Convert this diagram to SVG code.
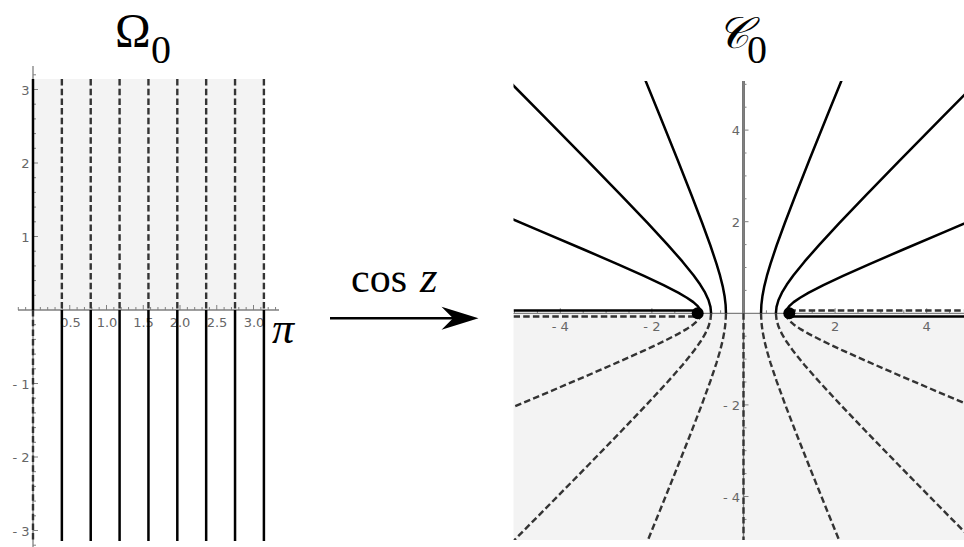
<svg xmlns="http://www.w3.org/2000/svg" width="964" height="547" viewBox="0 0 964 547">
<style>
.ax{stroke:#808080;stroke-width:1.3;fill:none}
.tk{stroke:#808080;stroke-width:1;fill:none}
.lbl{font-family:"DejaVu Sans",sans-serif;font-size:13px;fill:#666}
.sol{stroke:#000;stroke-width:2.5;fill:none;stroke-linejoin:round}
.das{stroke:#333;stroke-width:2.4;fill:none;stroke-dasharray:6.5,3.2;stroke-linejoin:round}
.ttl{font-family:"Liberation Serif","DejaVu Serif",serif;fill:#000}
</style>
<defs>
<clipPath id="rclip"><rect x="513.5" y="81" width="451" height="459"/></clipPath>
</defs>
<rect width="964" height="547" fill="#fff"/>

<g id="title-omega">
<text class="ttl" x="115" y="47" font-size="48">Ω</text>
<text class="ttl" x="151" y="63" font-size="40">0</text>
</g>
<g id="title-c">
<text class="ttl" x="717" y="48" font-size="44" font-style="italic">𝒞</text>
<text class="ttl" x="747" y="63" font-size="40">0</text>
</g>

<g id="left-plot">
<rect x="33" y="79" width="231" height="231" fill="#f3f3f3"/>
<g id="left-axes">
<path class="ax" d="M18,310H279M33,66V547"/>
<path class="tk" d="M18.3,310v-3M25.65,310v-3M40.35,310v-3M47.7,310v-3M55.05,310v-3M62.4,310v-3M69.75,310v-5M77.1,310v-3M84.45,310v-3M91.8,310v-3M99.15,310v-3M106.5,310v-5M113.85,310v-3M121.2,310v-3M128.55,310v-3M135.9,310v-3M143.25,310v-5M150.6,310v-3M157.95,310v-3M165.3,310v-3M172.65,310v-3M180,310v-5M187.35,310v-3M194.7,310v-3M202.05,310v-3M209.4,310v-3M216.75,310v-5M224.1,310v-3M231.45,310v-3M238.8,310v-3M246.15,310v-3M253.5,310v-5M260.85,310v-3M268.2,310v-3M275.55,310v-3"/>
<path class="tk" d="M33,74.8h3M33,89.5h5M33,104.2h3M33,118.9h3M33,133.6h3M33,148.3h3M33,163h5M33,177.7h3M33,192.4h3M33,207.1h3M33,221.8h3M33,236.5h5M33,251.2h3M33,265.9h3M33,280.6h3M33,295.3h3M33,324.7h3M33,339.4h3M33,354.1h3M33,368.8h3M33,383.5h5M33,398.2h3M33,412.9h3M33,427.6h3M33,442.3h3M33,457h5M33,471.7h3M33,486.4h3M33,501.1h3M33,515.8h3M33,530.5h5M33,545.2h3"/>
<g class="lbl" text-anchor="middle">
<text x="70.5" y="327">0.5</text>
<text x="107" y="327">1.0</text>
<text x="143.5" y="327">1.5</text>
<text x="180" y="327">2.0</text>
<text x="217" y="327">2.5</text>
<text x="254" y="327">3.0</text>
</g>
<g class="lbl" text-anchor="end">
<text x="29.5" y="94.5">3</text>
<text x="29.5" y="168">2</text>
<text x="29.5" y="241.5">1</text>
<text x="29.5" y="388.5">- 1</text>
<text x="29.5" y="462">- 2</text>
<text x="29.5" y="535.5">- 3</text>
</g>
</g>
<g id="left-lines">
<path class="sol" d="M33,79V310"/>
<path class="das" d="M33,310V541"/>
<path class="das" d="M61.86,79V310M90.72,79V310M119.59,79V310M148.45,79V310M177.31,79V310M206.17,79V310M235.04,79V310M263.9,79V310"/>
<path class="sol" d="M61.86,310V541M90.72,310V541M119.59,310V541M148.45,310V541M177.31,310V541M206.17,310V541M235.04,310V541M263.9,310V541"/>
</g>
<text id="pi-label" class="ttl" x="272" y="343" font-size="44" font-style="italic">π</text>
</g>

<g id="arrow-map">
<g id="connectors">
<path d="M330,318.3H456" stroke="#000" stroke-width="2.5" fill="none"/>
<path d="M478.5,318.3L441.5,306.8L453,318.3L441.5,329.8Z" fill="#000"/>
</g>
<text class="ttl" x="351" y="291.5" font-size="42">cos<tspan x="420" font-style="italic" font-size="45">z</tspan></text>
</g>

<g id="right-plot">
<rect x="513.5" y="313.3" width="451" height="226.7" fill="#f3f3f3"/>
<g id="right-axes">
<path d="M743.5,81V313.3" stroke="#3c3c3c" stroke-width="2.4" fill="none"/>
<path class="ax" d="M513.5,313.3H964M743.5,81V540"/>
<path class="tk" d="M514.5,313.3v-3M537.4,313.3v-3M560.3,313.3v-5M583.2,313.3v-3M606.1,313.3v-3M629,313.3v-3M651.9,313.3v-5M674.8,313.3v-3M697.7,313.3v-3M720.6,313.3v-3M766.4,313.3v-3M789.3,313.3v-3M812.2,313.3v-3M835.1,313.3v-5M858,313.3v-3M880.9,313.3v-3M903.8,313.3v-3M926.7,313.3v-5M949.6,313.3v-3"/>
<path class="tk" d="M743.5,84.3h3M743.5,107.2h3M743.5,130.1h5M743.5,153h3M743.5,175.9h3M743.5,198.8h3M743.5,221.7h5M743.5,244.6h3M743.5,267.5h3M743.5,290.4h3M743.5,336.2h3M743.5,359.1h3M743.5,382h3M743.5,404.9h5M743.5,427.8h3M743.5,450.7h3M743.5,473.6h3M743.5,496.5h5M743.5,519.4h3"/>
<g class="lbl" text-anchor="middle">
<text x="560.3" y="331">- 4</text>
<text x="651.9" y="331">- 2</text>
<text x="835.1" y="331">2</text>
<text x="926.7" y="331">4</text>
</g>
<g class="lbl" text-anchor="end">
<text x="740" y="135">4</text>
<text x="740" y="226.5">2</text>
<text x="740" y="409.5">- 2</text>
<text x="740" y="501.5">- 4</text>
</g>
</g>
<g id="right-curves" clip-path="url(#rclip)">
<path class="sol" d="M513.5,310.5H697.5"/>
<path class="das" d="M513.5,316.5H697.5"/>
<path class="das" d="M789.3,310.5H964"/>
<path class="sol" d="M789.3,316.5H964"/>
<path class="das" d="M743.5,313.3V540"/>
<path class="sol" d="M785.81,313.3L786.66,309.77L789.25,306.10L793.66,302.14L800.09,297.73L808.80,292.70L823.41,285.22L843.04,275.98L868.93,264.39L902.70,249.73L946.46,231.08L1002.98,207.26"/>
<path class="das" d="M785.81,313.3L786.66,316.83L789.25,320.50L793.66,324.46L800.09,328.87L808.80,333.90L823.41,341.38L843.04,350.62L868.93,362.21L902.70,376.87L946.46,395.52L1002.98,419.34"/>
<path class="sol" d="M701.19,313.3L700.34,309.77L697.75,306.10L693.34,302.14L686.91,297.73L678.20,292.70L663.59,285.22L643.96,275.98L618.07,264.39L584.30,249.73L540.54,231.08L484.02,207.26"/>
<path class="das" d="M701.19,313.3L700.34,316.83L697.75,320.50L693.34,324.46L686.91,328.87L678.20,333.90L663.59,341.38L643.96,350.62L618.07,362.21L584.30,376.87L540.54,395.52L484.02,419.34"/>
<path class="sol" d="M775.89,313.3L776.54,306.78L778.51,300.00L781.89,292.68L786.81,284.54L793.47,275.24L804.66,261.42L819.69,244.34L839.50,222.93L865.34,195.84L898.84,161.37L942.10,117.36L997.84,61.04"/>
<path class="das" d="M775.89,313.3L776.54,319.82L778.51,326.60L781.89,333.92L786.81,342.06L793.47,351.36L804.66,365.18L819.69,382.26L839.50,403.67L865.34,430.76L898.84,465.23L942.10,509.24L997.84,565.56"/>
<path class="sol" d="M711.11,313.3L710.46,306.78L708.49,300.00L705.11,292.68L700.19,284.54L693.53,275.24L682.34,261.42L667.31,244.34L647.50,222.93L621.66,195.84L588.16,161.37L544.90,117.36L489.16,61.04"/>
<path class="das" d="M711.11,313.3L710.46,319.82L708.49,326.60L705.11,333.92L700.19,342.06L693.53,351.36L682.34,365.18L667.31,382.26L647.50,403.67L621.66,430.76L588.16,465.23L544.90,509.24L489.16,565.56"/>
<path class="sol" d="M761.03,313.3L761.38,304.78L762.45,295.92L764.28,286.36L766.94,275.72L770.55,263.57L776.60,245.52L784.73,223.20L795.45,195.23L809.44,159.83L827.57,114.80L850.98,57.29"/>
<path class="das" d="M761.03,313.3L761.38,321.82L762.45,330.68L764.28,340.24L766.94,350.88L770.55,363.03L776.60,381.08L784.73,403.40L795.45,431.37L809.44,466.77L827.57,511.80L850.98,569.31"/>
<path class="sol" d="M725.97,313.3L725.62,304.78L724.55,295.92L722.72,286.36L720.06,275.72L716.45,263.57L710.40,245.52L702.27,223.20L691.55,195.23L677.56,159.83L659.43,114.80L636.02,57.29"/>
<path class="das" d="M725.97,313.3L725.62,321.82L724.55,330.68L722.72,340.24L720.06,350.88L716.45,363.03L710.40,381.08L702.27,403.40L691.55,431.37L677.56,466.77L659.43,511.80L636.02,569.31"/>
</g>
<g id="branch-points">
<circle cx="697.7" cy="313.3" r="6" fill="#000"/>
<circle cx="789.3" cy="313.3" r="6" fill="#000"/>
</g>
</g>
</svg>
